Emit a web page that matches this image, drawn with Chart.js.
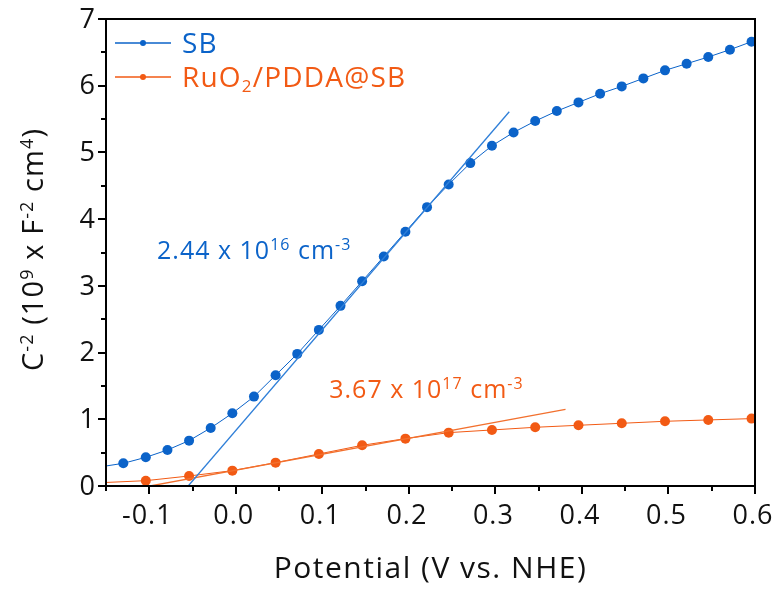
<!DOCTYPE html>
<html><head><meta charset="utf-8">
<script src="https://cdn.jsdelivr.net/npm/chart.js@4.4.1/dist/chart.umd.min.js"></script>
<style>html,body{margin:0;padding:0;background:#fff}#wrap{width:781px;height:590px}</style>
</head><body><div id="wrap"><canvas id="c" width="781" height="590"></canvas></div>
<script>
// ---- data ----
const sbPotential = [-0.155, -0.130, -0.104, -0.079, -0.054, -0.029, -0.004, 0.021, 0.046, 0.071, 0.096, 0.121, 0.146, 0.171, 0.196, 0.221, 0.246, 0.271, 0.296, 0.321, 0.346, 0.371, 0.396, 0.421, 0.446, 0.471, 0.496, 0.521, 0.546, 0.571, 0.596];
const sbC2 = [0.29, 0.34, 0.43, 0.54, 0.68, 0.87, 1.09, 1.34, 1.66, 1.98, 2.34, 2.70, 3.07, 3.44, 3.81, 4.18, 4.52, 4.84, 5.10, 5.30, 5.47, 5.62, 5.75, 5.88, 5.99, 6.11, 6.23, 6.33, 6.43, 6.54, 6.66];
const ruPotential = [-0.155, -0.104, -0.054, -0.004, 0.046, 0.096, 0.146, 0.196, 0.246, 0.296, 0.346, 0.396, 0.446, 0.496, 0.546, 0.596];
const ruC2 = [0.05, 0.08, 0.15, 0.23, 0.35, 0.48, 0.61, 0.71, 0.80, 0.84, 0.88, 0.91, 0.94, 0.97, 0.99, 1.01];
const sbFitPotential = [-0.055, 0.316];
const sbFitC2 = [0.0, 5.61];
const ruFitPotential = [-0.099, 0.381];
const ruFitC2 = [0.0, 1.15];
const seriesNames = ['SB', 'RuO2/PDDA@SB'];
const sbAnnotation = {x: -0.091, y: 3.40};   // text anchor (left, baseline) in data units
const ruAnnotation = {x: 0.108, y: 1.32};
const xTickValues = [-0.1, 0.0, 0.1, 0.2, 0.3, 0.4, 0.5, 0.6];
const xTickLabels = ['-0.1', '0.0', '0.1', '0.2', '0.3', '0.4', '0.5', '0.6'];
const xMinorTicks = [-0.15, -0.05, 0.05, 0.15, 0.25, 0.35, 0.45, 0.55];
const yTickValues = [0, 1, 2, 3, 4, 5, 6, 7];
const yTickLabels = ['0', '1', '2', '3', '4', '5', '6', '7'];
const yMinorTicks = [0.5, 1.5, 2.5, 3.5, 4.5, 5.5, 6.5];

const BLUE = '#0b63c9', BLUE_FIT = '#2f7fd8', ORANGE = '#f25a14', ORANGE_FIT = '#f2702e';
const FONT = '"Open Sans", "Noto Sans", sans-serif';

function pts(xs, ys) { return xs.map((x, i) => ({x: x, y: ys[i]})); }

// rich text: parts = [[text, mode]] mode 0 normal, 1 sup, -1 sub
function richWidth(ctx, parts, size) {
  let w = 0;
  for (const [t, m] of parts) {
    ctx.font = (m ? Math.round(size * 0.62) : size) + 'px ' + FONT;
    w += ctx.measureText(t).width;
  }
  return w;
}
function drawRich(ctx, parts, x, y, size, color, align, spacing) {
  ctx.save();
  ctx.letterSpacing = (spacing || 0) + 'px';
  ctx.fillStyle = color;
  ctx.textBaseline = 'alphabetic';
  ctx.textAlign = 'left';
  let cx = x;
  if (align === 'center') cx = x - richWidth(ctx, parts, size) / 2;
  for (const [t, m] of parts) {
    const s = m ? Math.round(size * 0.62) : size;
    ctx.font = s + 'px ' + FONT;
    const dy = m === 1 ? -size * 0.36 : (m === -1 ? size * 0.2 : 0);
    ctx.fillText(t, cx, y + dy);
    cx += ctx.measureText(t).width;
  }
  ctx.restore();
}

const decor = {
  id: 'decor',
  afterDraw(chart) {
    const ctx = chart.ctx, a = chart.chartArea;
    const xs = chart.scales.x, ys = chart.scales.y;
    ctx.save();
    // frame
    ctx.strokeStyle = '#000';
    ctx.lineWidth = 2;
    ctx.strokeRect(a.left, a.top, a.right - a.left, a.bottom - a.top);
    // ticks
    ctx.beginPath();
    xTickValues.forEach(v => { const p = Math.round(xs.getPixelForValue(v)); ctx.moveTo(p, a.bottom); ctx.lineTo(p, a.bottom + 8); });
    xMinorTicks.forEach(v => { const p = Math.round(xs.getPixelForValue(v)); ctx.moveTo(p, a.bottom); ctx.lineTo(p, a.bottom + 5); });
    yTickValues.forEach(v => { const p = Math.round(ys.getPixelForValue(v)); ctx.moveTo(a.left, p); ctx.lineTo(a.left - 8, p); });
    yMinorTicks.forEach(v => { const p = Math.round(ys.getPixelForValue(v)); ctx.moveTo(a.left, p); ctx.lineTo(a.left - 5, p); });
    ctx.stroke();
    // tick labels
    ctx.fillStyle = '#111';
    ctx.letterSpacing = '1px';
    ctx.font = '27px ' + FONT;
    ctx.textAlign = 'center';
    ctx.textBaseline = 'middle';
    xTickValues.forEach((v, i) => ctx.fillText(xTickLabels[i], xs.getPixelForValue(v) - 2, a.bottom + 30));
    ctx.textAlign = 'right';
    yTickValues.forEach((v, i) => ctx.fillText(yTickLabels[i], a.left - 10, ys.getPixelForValue(v) + 1));
    ctx.letterSpacing = '0px';
    // axis titles
    drawRich(ctx, [['Potential (V vs. NHE)', 0]], (a.left + a.right) / 2, 578, 30, '#111', 'center', 1.5);
    ctx.save();
    ctx.translate(43, (a.top + a.bottom) / 2 - 3);
    ctx.rotate(-Math.PI / 2);
    drawRich(ctx, [['C', 0], ['-2', 1], [' (10', 0], ['9', 1], [' x F', 0], ['-2', 1], [' cm', 0], ['4', 1], [')', 0]], 0, 0, 29, '#111', 'center', 1.1);
    ctx.restore();
    // legend
    const lx0 = a.left + 9, lx1 = a.left + 65, lmid = (lx0 + lx1) / 2;
    [[BLUE, 43, [['SB', 0]]], [ORANGE, 77, [['RuO', 0], ['2', -1], ['/PDDA@SB', 0]]]].forEach(([c, y, parts]) => {
      ctx.strokeStyle = c; ctx.lineWidth = 1.5;
      ctx.beginPath(); ctx.moveTo(lx0, y); ctx.lineTo(lx1, y); ctx.stroke();
      ctx.fillStyle = c; ctx.beginPath(); ctx.arc(lmid, y, 3, 0, Math.PI * 2); ctx.fill();
      drawRich(ctx, parts, a.left + 76, y + 9.5, 28, c, 'left', 1.2);
    });
    // annotations
    drawRich(ctx, [['2.44 x 10', 0], ['16', 1], [' cm', 0], ['-3', 1]], xs.getPixelForValue(sbAnnotation.x), ys.getPixelForValue(sbAnnotation.y), 25, BLUE, 'left', 1.0);
    drawRich(ctx, [['3.67 x 10', 0], ['17', 1], [' cm', 0], ['-3', 1]], xs.getPixelForValue(ruAnnotation.x), ys.getPixelForValue(ruAnnotation.y), 25, ORANGE, 'left', 1.0);
    ctx.restore();
  }
};

new Chart(document.getElementById('c'), {
  type: 'scatter',
  data: {
    datasets: [
      {label: 'SB fit', data: pts(sbFitPotential, sbFitC2), showLine: true, borderColor: BLUE_FIT, borderWidth: 1.3, pointRadius: 0},
      {label: 'RuO2 fit', data: pts(ruFitPotential, ruFitC2), showLine: true, borderColor: ORANGE_FIT, borderWidth: 1.3, pointRadius: 0},
      {label: seriesNames[0], data: pts(sbPotential, sbC2), showLine: true, borderColor: BLUE, borderWidth: 1, pointRadius: 5, pointBackgroundColor: BLUE, pointBorderWidth: 0},
      {label: seriesNames[1], data: pts(ruPotential, ruC2), showLine: true, borderColor: ORANGE, borderWidth: 1, pointRadius: 5, pointBackgroundColor: ORANGE, pointBorderWidth: 0}
    ]
  },
  options: {
    responsive: false, animation: false, devicePixelRatio: 1,
    layout: {padding: {top: 19, right: 26, left: 0, bottom: 0}},
    plugins: {legend: {display: false}, tooltip: {enabled: false}},
    scales: {
      x: {type: 'linear', min: -0.15, max: 0.6, grid: {display: false, drawTicks: false}, border: {display: false}, ticks: {display: false}, afterFit(s) { s.height = 104; }},
      y: {type: 'linear', min: 0, max: 7, grid: {display: false, drawTicks: false}, border: {display: false}, ticks: {display: false}, afterFit(s) { s.width = 106; }}
    }
  },
  plugins: [decor]
});
</script></body></html>
